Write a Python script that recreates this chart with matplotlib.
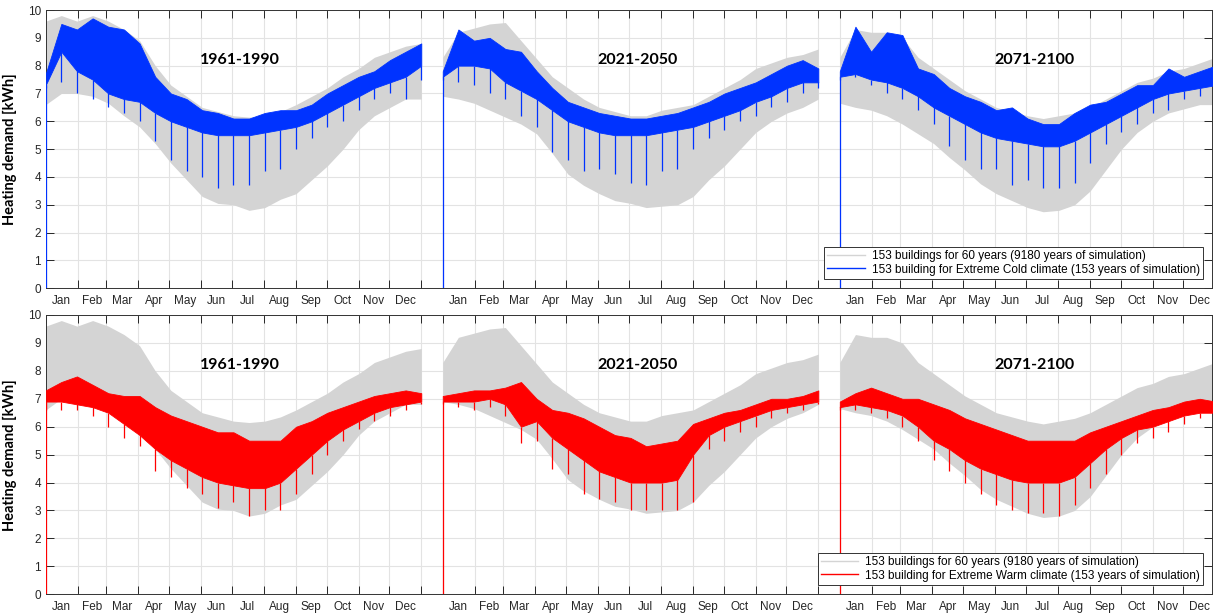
import numpy as np
import matplotlib.pyplot as plt

# hourly axis, one 8760 h year per period, separated by a small gap
periods = ['1961-1990', '2021-2050', '2071-2100']
period_start = [0, 9260, 18520]
months = ['Jan', 'Feb', 'Mar', 'Apr', 'May', 'Jun', 'Jul', 'Aug', 'Sep', 'Oct', 'Nov', 'Dec']
month_days = [0, 31, 59, 90, 120, 151, 181, 212, 243, 273, 304, 334, 365]

# samples every half month (Jan 1, mid Jan, Feb 1, ... Dec 31)
sample_h = np.arange(25) * 365

# grey: 153 buildings for 60 years (upper / lower envelope)
grey_hi_p1 = [9.6, 9.8, 9.6, 9.8, 9.6, 9.3, 8.9, 8.0, 7.3, 6.9, 6.5, 6.35, 6.2, 6.15, 6.2, 6.35, 6.6, 6.9, 7.2, 7.6, 7.9, 8.3, 8.5, 8.7, 8.8]
grey_lo_p1 = [6.6, 7.0, 7.0, 6.9, 6.65, 6.2, 5.8, 5.2, 4.5, 3.9, 3.3, 3.05, 3.0, 2.8, 2.9, 3.2, 3.4, 3.9, 4.4, 5.0, 5.7, 6.2, 6.5, 6.8, 6.8]
grey_hi_p2 = [8.3, 9.2, 9.35, 9.5, 9.55, 8.9, 8.25, 7.6, 7.2, 6.8, 6.5, 6.35, 6.2, 6.2, 6.4, 6.5, 6.6, 6.9, 7.2, 7.5, 7.9, 8.1, 8.3, 8.4, 8.6]
grey_lo_p2 = [6.9, 6.8, 6.65, 6.4, 6.15, 5.9, 5.55, 4.85, 4.1, 3.7, 3.4, 3.15, 3.05, 2.9, 2.95, 3.0, 3.3, 3.9, 4.4, 5.0, 5.6, 6.0, 6.3, 6.5, 6.8]
grey_hi_p3 = [8.3, 9.3, 9.2, 9.2, 9.0, 8.3, 7.9, 7.5, 7.1, 6.8, 6.5, 6.35, 6.2, 6.1, 6.2, 6.3, 6.5, 6.8, 7.1, 7.4, 7.55, 7.8, 7.9, 8.1, 8.3]
grey_lo_p3 = [6.65, 6.5, 6.4, 6.2, 5.9, 5.55, 5.2, 4.7, 4.25, 3.75, 3.4, 3.15, 2.9, 2.75, 2.8, 3.0, 3.5, 4.25, 5.0, 5.6, 6.0, 6.3, 6.45, 6.6, 6.6]

# Extreme Cold: upper edge, lower edge of the dense band, lowest spikes
cold_hi_p1 = [7.7, 9.5, 9.3, 9.7, 9.4, 9.3, 8.8, 7.6, 7.0, 6.8, 6.4, 6.3, 6.1, 6.1, 6.3, 6.4, 6.4, 6.6, 7.0, 7.3, 7.6, 7.8, 8.2, 8.5, 8.8]
cold_mid_p1 = [7.3, 8.5, 7.8, 7.5, 7.0, 6.8, 6.7, 6.3, 6.0, 5.8, 5.6, 5.5, 5.5, 5.5, 5.6, 5.7, 5.8, 6.0, 6.3, 6.6, 6.9, 7.2, 7.4, 7.6, 8.0]
cold_lo_p1 = [7.2, 7.4, 7.0, 6.8, 6.5, 6.3, 6.0, 5.3, 4.6, 4.2, 4.0, 3.6, 3.7, 3.7, 4.2, 4.3, 5.0, 5.4, 5.8, 6.0, 6.4, 6.8, 7.0, 6.8, 7.5]
cold_hi_p2 = [7.8, 9.3, 8.9, 9.0, 8.6, 8.5, 7.8, 7.2, 6.7, 6.5, 6.3, 6.2, 6.1, 6.1, 6.2, 6.3, 6.5, 6.7, 7.0, 7.2, 7.4, 7.7, 8.0, 8.2, 7.9]
cold_mid_p2 = [7.6, 8.0, 8.0, 7.9, 7.4, 7.1, 6.8, 6.4, 6.0, 5.8, 5.6, 5.5, 5.5, 5.5, 5.6, 5.7, 5.8, 6.0, 6.2, 6.4, 6.7, 6.9, 7.2, 7.4, 7.4]
cold_lo_p2 = [7.5, 7.4, 7.3, 7.0, 6.8, 6.2, 5.8, 4.9, 4.6, 4.2, 4.3, 4.1, 3.8, 3.7, 4.2, 4.3, 5.0, 5.4, 5.7, 6.0, 6.2, 6.5, 6.7, 7.0, 7.2]
cold_hi_p3 = [7.8, 9.4, 8.5, 9.2, 9.1, 7.9, 7.7, 7.2, 6.9, 6.7, 6.4, 6.5, 6.1, 5.9, 5.9, 6.3, 6.6, 6.7, 7.0, 7.3, 7.3, 7.9, 7.6, 7.8, 8.0]
cold_mid_p3 = [7.6, 7.7, 7.5, 7.4, 7.2, 6.9, 6.5, 6.2, 5.9, 5.6, 5.4, 5.3, 5.2, 5.1, 5.1, 5.3, 5.6, 5.9, 6.2, 6.5, 6.8, 7.0, 7.1, 7.2, 7.3]
cold_lo_p3 = [7.5, 7.6, 7.3, 7.0, 6.8, 6.4, 5.9, 5.1, 4.6, 4.3, 4.3, 3.7, 3.9, 3.6, 3.6, 3.8, 4.5, 5.2, 5.6, 5.9, 6.3, 6.4, 6.8, 6.9, 7.0]

# Extreme Warm
warm_hi_p1 = [7.3, 7.6, 7.8, 7.5, 7.2, 7.1, 7.1, 6.7, 6.4, 6.2, 6.0, 5.8, 5.8, 5.5, 5.5, 5.5, 6.0, 6.2, 6.5, 6.7, 6.9, 7.1, 7.2, 7.3, 7.2]
warm_mid_p1 = [6.9, 6.9, 6.8, 6.7, 6.5, 6.1, 5.7, 5.2, 4.8, 4.5, 4.2, 4.0, 3.9, 3.8, 3.8, 4.0, 4.5, 5.0, 5.5, 5.9, 6.2, 6.5, 6.7, 6.8, 6.9]
warm_lo_p1 = [6.6, 6.6, 6.6, 6.4, 6.0, 5.6, 5.3, 4.4, 4.2, 3.8, 3.6, 3.1, 3.3, 2.8, 3.0, 3.0, 3.6, 4.3, 5.0, 5.5, 5.9, 6.2, 6.4, 6.6, 6.8]
warm_hi_p2 = [7.1, 7.2, 7.3, 7.3, 7.4, 7.6, 7.0, 6.6, 6.5, 6.3, 6.0, 5.7, 5.6, 5.3, 5.4, 5.5, 6.1, 6.3, 6.5, 6.6, 6.8, 7.0, 7.0, 7.1, 7.3]
warm_mid_p2 = [6.9, 6.9, 6.9, 7.0, 6.8, 6.0, 6.2, 5.6, 5.2, 4.8, 4.4, 4.2, 4.0, 4.0, 4.0, 4.1, 5.0, 5.7, 6.0, 6.2, 6.4, 6.6, 6.7, 6.8, 6.9]
warm_lo_p2 = [6.8, 6.7, 6.6, 6.7, 6.4, 5.4, 5.5, 4.5, 4.3, 3.6, 3.4, 3.3, 3.0, 3.0, 3.0, 3.0, 3.3, 5.2, 5.5, 5.8, 6.0, 6.3, 6.5, 6.6, 6.8]
warm_hi_p3 = [6.9, 7.2, 7.4, 7.2, 7.0, 7.0, 6.8, 6.6, 6.3, 6.1, 5.9, 5.7, 5.5, 5.5, 5.5, 5.5, 5.8, 6.0, 6.2, 6.4, 6.6, 6.7, 6.9, 7.0, 6.9]
warm_mid_p3 = [6.7, 6.8, 6.7, 6.6, 6.4, 6.0, 5.5, 5.2, 4.8, 4.5, 4.3, 4.1, 4.0, 4.0, 4.0, 4.2, 4.7, 5.2, 5.6, 5.9, 6.0, 6.2, 6.4, 6.5, 6.5]
warm_lo_p3 = [6.6, 6.6, 6.5, 6.3, 6.0, 5.5, 4.8, 4.4, 4.0, 3.6, 3.2, 3.0, 2.9, 2.9, 2.8, 3.2, 3.8, 4.3, 5.0, 5.4, 5.6, 5.8, 6.1, 6.3, 6.4]

grey_hi = [grey_hi_p1, grey_hi_p2, grey_hi_p3]
grey_lo = [grey_lo_p1, grey_lo_p2, grey_lo_p3]

GREY = '#d4d4d4'
BLUE = '#0033ff'
RED = '#ff0000'
TXT = '#262626'

plt.rcParams['font.family'] = ['Liberation Sans', 'DejaVu Sans']


def draw_row(ax, hi, mid, lo, color, label):
    for k in range(3):
        x = period_start[k] + sample_h
        ax.fill_between(x, grey_lo[k], grey_hi[k], color=GREY, lw=0, zorder=2)
        ax.fill_between(x, mid[k], hi[k], color=color, lw=0.6, edgecolor=color, zorder=3)
        ax.vlines(x, lo[k], mid[k], color=color, lw=0.9, zorder=3)
        ax.plot([x[0], x[0]], [0, mid[k][0]], color=color, lw=0.9, zorder=3)
        ax.text(period_start[k] + 4540, 8.2, periods[k], ha='center', va='center',
                fontsize=11.5, fontweight='bold', family='Lato', color='black', zorder=5)

    ticks = [s + d * 24 for s in period_start for d in month_days]
    mids = [s + (month_days[i] + month_days[i + 1]) * 12 for s in period_start for i in range(12)]
    ax.set_xticks(ticks)
    ax.set_xticklabels([])
    ax.set_xticks(mids, minor=True)
    ax.set_xticklabels(months * 3, minor=True)
    ax.set_xlim(0, 27200)
    ax.set_ylim(0, 10)
    ax.set_yticks(range(11))
    ax.tick_params(which='major', direction='in', length=6, width=0.7, top=True, right=True,
                   colors=TXT, labelsize=8.5)
    ax.tick_params(which='minor', length=0, labelsize=8.5, labelcolor=TXT, pad=5)
    ax.grid(True, which='major', color='#e3e3e3', lw=0.8)
    ax.set_axisbelow(True)
    for sp in ax.spines.values():
        sp.set_color('#333333')
        sp.set_linewidth(0.7)
    ax.set_ylabel('Heating demand [kWh]', family='Lato', fontweight='bold', fontsize=10.5)
    ax.yaxis.set_label_coords(-0.0246, 0.5)

    h1, = ax.plot([], [], color=GREY, lw=1)
    h2, = ax.plot([], [], color=color, lw=1)
    leg = ax.legend([h1, h2], ['153 buildings for 60 years (9180 years of simulation)', label],
                    loc='lower right', bbox_to_anchor=(0.9925, 0.035), borderaxespad=0,
                    fontsize=8.5, handlelength=3.2, labelspacing=0.1, borderpad=0.25,
                    handletextpad=0.6, fancybox=False, framealpha=1)
    leg.get_frame().set_edgecolor('#333333')
    leg.get_frame().set_linewidth(0.7)


fig = plt.figure(figsize=(12.15, 6.14), dpi=100)
ax1 = fig.add_axes([0.0376, 0.5305, 0.9599, 0.4532])
ax2 = fig.add_axes([0.0376, 0.0321, 0.9599, 0.4549])

draw_row(ax1, [cold_hi_p1, cold_hi_p2, cold_hi_p3], [cold_mid_p1, cold_mid_p2, cold_mid_p3],
         [cold_lo_p1, cold_lo_p2, cold_lo_p3], BLUE,
         '153 building for Extreme Cold climate (153 years of simulation)')
draw_row(ax2, [warm_hi_p1, warm_hi_p2, warm_hi_p3], [warm_mid_p1, warm_mid_p2, warm_mid_p3],
         [warm_lo_p1, warm_lo_p2, warm_lo_p3], RED,
         '153 building for Extreme Warm climate (153 years of simulation)')

fig.savefig('out.png', dpi=100)
